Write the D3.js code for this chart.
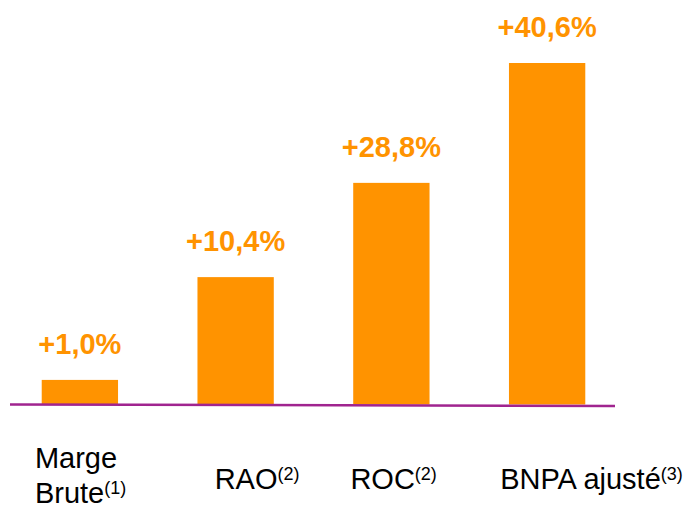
<!DOCTYPE html>
<html>
<head>
<meta charset="utf-8">
<script src="https://cdn.jsdelivr.net/npm/d3@7"></script>
<style>
  html, body { margin: 0; padding: 0; background: #fff; }
  #chart svg { display: block; font-family: Arial, "Liberation Sans", sans-serif; }
</style>
</head>
<body>
<div id="chart"></div>
<script>
// data
const categories = ["Marge Brute", "RAO", "ROC", "BNPA ajusté"];
const categoryLines = [["Marge", "Brute"], ["RAO"], ["ROC"], ["BNPA ajusté"]];
const footnotes = ["(1)", "(2)", "(2)", "(3)"];
const growthLabels = ["+1,0%", "+10,4%", "+28,8%", "+40,6%"];
const growthValues = [1.0, 10.4, 28.8, 40.6];
// the bars are not drawn to scale in the original: visual level of each bar (0-10)
const barLevels = [0.72, 3.73, 6.49, 10];

const WIDTH = 695, HEIGHT = 508;
const ORANGE = "#ff9300";
const PURPLE = "#a0248f";
const LABEL_DX = [-45, -21, -41, -47]; // label text boxes are left aligned

const svg = d3.select("#chart").append("svg")
  .attr("width", WIDTH)
  .attr("height", HEIGHT);

const x = d3.scaleBand()
  .domain(categories)
  .range([2, 625])
  .paddingInner(0.51)
  .paddingOuter(0.255);

const y = d3.scaleLinear()
  .domain([0, 10])
  .range([404.5, 63]);

const data = categories.map((c, i) => ({
  cat: c, lines: categoryLines[i], note: footnotes[i],
  label: growthLabels[i], value: growthValues[i], level: barLevels[i], dx: LABEL_DX[i]
}));

// bars
svg.append("g").selectAll("rect")
  .data(data)
  .join("rect")
    .attr("x", d => x(d.cat))
    .attr("width", x.bandwidth())
    .attr("y", d => y(d.level))
    .attr("height", d => y(0) - y(d.level))
    .attr("fill", ORANGE);

// baseline
svg.append("line")
  .attr("x1", 10).attr("x2", 615)
  .attr("y1", y(0)).attr("y2", y(0) + 1.5)
  .attr("stroke", PURPLE)
  .attr("stroke-width", 2.5);

// value labels
svg.append("g").selectAll("text")
  .data(data)
  .join("text")
    .attr("x", d => x(d.cat) + x.bandwidth() / 2)
    .attr("y", d => y(d.level) - 26)
    .attr("text-anchor", "middle")
    .attr("fill", ORANGE)
    .attr("font-weight", "bold")
    .attr("font-size", 29)
    .text(d => d.label);

// category labels
const cat = svg.append("g").selectAll("text")
  .data(data)
  .join("text")
    .attr("y", d => d.lines.length > 1 ? 468 : 489)
    .attr("font-size", 29)
    .attr("fill", "#000");

cat.each(function(d) {
  const t = d3.select(this);
  const lx = x(d.cat) + x.bandwidth() / 2 + d.dx;
  d.lines.forEach((line, j) => {
    t.append("tspan")
      .attr("x", lx)
      .attr("dy", j === 0 ? 0 : 35)
      .text(line);
  });
  t.append("tspan")
    .attr("font-size", 18)
    .attr("dy", -9)
    .text(d.note);
});
</script>
</body>
</html>
